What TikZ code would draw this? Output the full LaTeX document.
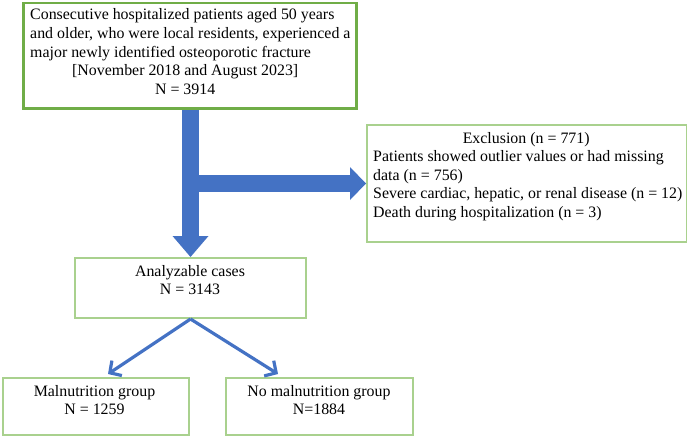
\documentclass[tikz,border=0pt]{standalone}
\usepackage{fontspec}
\setmainfont{Liberation Serif}
\usetikzlibrary{arrows.meta,calc}
\definecolor{darkboxgreen}{RGB}{112,173,71}
\definecolor{lightboxgreen}{RGB}{169,209,142}
\definecolor{arrowblue}{RGB}{68,114,196}
\begin{document}
\begin{tikzpicture}[x=1pt,y=-1pt,
  box/.style={draw=lightboxgreen, line width=2pt, inner sep=0pt, fill=none},
  topbox/.style={draw=darkboxgreen, line width=2.5pt, inner sep=0pt},
  txt/.style={inner sep=0pt, font=\fontsize{15.9}{18.5}\selectfont},
  bigarrow/.style={draw=arrowblue, line width=17pt},
  thinarrow/.style={draw=arrowblue, line width=3.2pt, -{Straight Barb[length=8.5pt,width=18pt]}}]
\useasboundingbox (0,0) rectangle (687,436);

% boxes
\node[topbox, minimum width=333pt, minimum height=105pt, anchor=north west] (top) at (22,2) {};
\node[box, minimum width=320pt, minimum height=117pt, anchor=north west] (excl) at (366,124) {};
\node[box, minimum width=231pt, minimum height=60pt, anchor=north west] (ana) at (74,257) {};
\node[box, minimum width=186pt, minimum height=57pt, anchor=north west] (mal) at (2,377) {};
\node[box, minimum width=187pt, minimum height=57pt, anchor=north west] (nomal) at (225,377) {};

% texts
\node[txt, anchor=base west] (toptext) at (30,20) {\begin{minipage}[t]{345pt}\raggedright
Consecutive hospitalized patients aged 50 years\\
and older, who were local residents, experienced a\\
major newly identified osteoporotic fracture\\
\makebox[310pt][c]{[November 2018 and August 2023]}\\
\makebox[310pt][c]{N = 3914}\end{minipage}};

\node[txt, anchor=base west] (excltext) at (373,143) {\begin{minipage}[t]{330pt}\raggedright
\makebox[306pt][c]{Exclusion (n = 771)}\\
Patients showed outlier values or had missing\\
data (n = 756)\\
Severe cardiac, hepatic, or renal disease (n = 12)\\
Death during hospitalization (n = 3)\end{minipage}};

\node[txt, anchor=base] (anatext) at (190,276) {\begin{minipage}[t]{220pt}\centering
Analyzable cases\\ N = 3143\end{minipage}};
\node[txt, anchor=base] (maltext) at (94.5,396) {\begin{minipage}[t]{180pt}\centering
Malnutrition group\\ N = 1259\end{minipage}};
\node[txt, anchor=base] (nomaltext) at (319,396) {\begin{minipage}[t]{180pt}\centering
No malnutrition group\\ N=1884\end{minipage}};

% big arrows
\draw[bigarrow, -{Triangle[length=21pt,width=36pt,line width=0pt]}] (ana.north |- top.south) -- (ana.north);
\draw[bigarrow, -{Triangle[length=16pt,width=33pt,line width=0pt]}] (ana.north |- excl.west) -- (excl.west);

% thin arrows
\coordinate (maltip) at (108,374);
\coordinate (nomaltip) at (278,374);
\draw[thinarrow] (ana.south) -- (maltip);
\draw[thinarrow] (ana.south) -- (nomaltip);
\end{tikzpicture}
\end{document}
